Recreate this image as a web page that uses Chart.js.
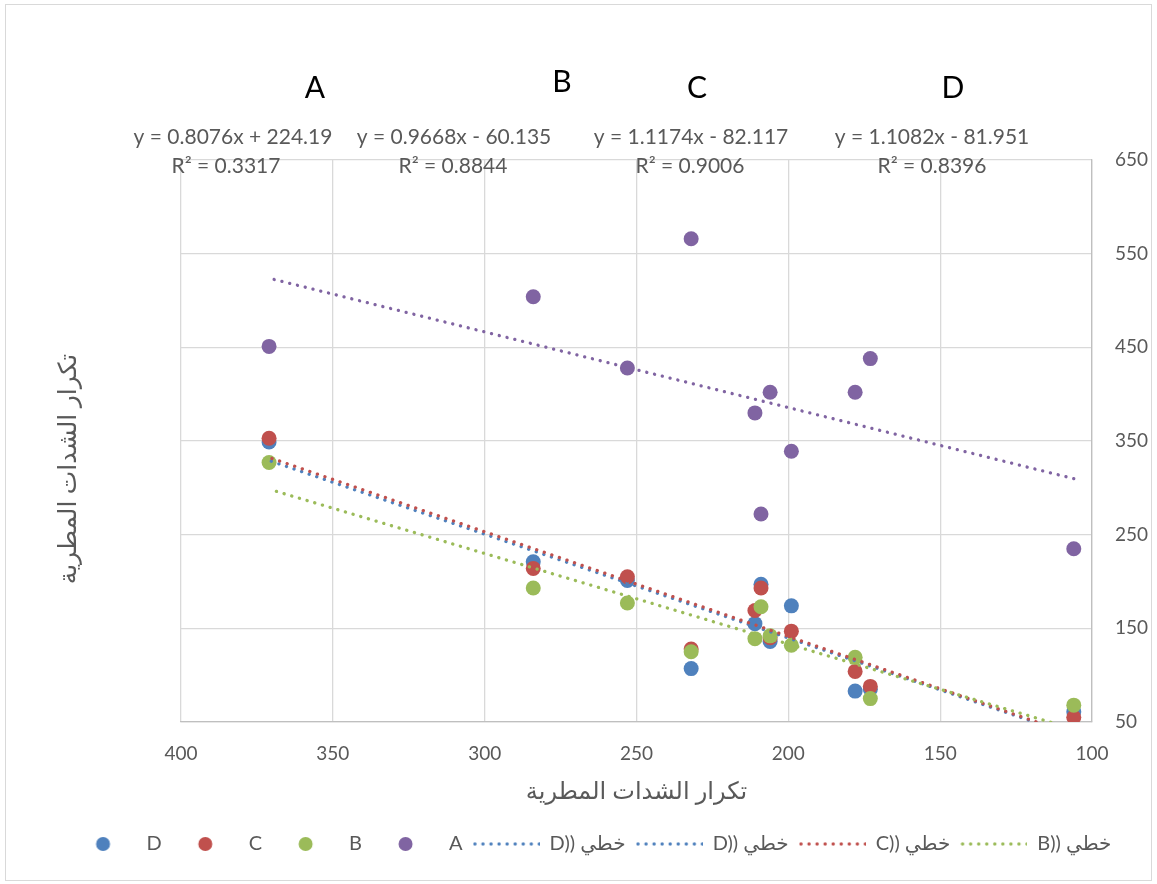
<!DOCTYPE html>
<html dir="ltr"><head><meta charset="utf-8">
<script src="https://cdn.jsdelivr.net/npm/chart.js@4/dist/chart.umd.min.js"></script>
<style>html,body{margin:0;padding:0;background:#fff}</style>
</head><body>
<canvas id="c" width="1157" height="884"></canvas>
<script>
// ---- data ----
const xValues = [371, 284, 253, 232, 211, 209, 206, 199, 178, 173, 106];
const seriesA = [451, 504, 428, 566, 380, 272, 402, 339, 402, 438, 235];
const seriesB = [327, 193, 177, 125, 139, 173, 142, 132, 119, 75, 68];
const seriesC = [353, 214, 205, 128, 169, 193, 140, 147, 104, 88, 55];
const seriesD = [349, 221, 201, 107, 155, 197, 136, 174, 83, 85, 61];
const seriesNames = ['A', 'B', 'C', 'D'];
const trendSlopes = [0.8076, 0.9668, 1.1174, 1.1082];
const trendIntercepts = [224.19, -60.135, -82.117, -81.951];
const trendEquations = ['y = 0.8076x + 224.19', 'y = 0.9668x - 60.135', 'y = 1.1174x - 82.117', 'y = 1.1082x - 81.951'];
const trendR2 = ['R² = 0.3317', 'R² = 0.8844', 'R² = 0.9006', 'R² = 0.8396'];
const xTicks = [400, 350, 300, 250, 200, 150, 100];
const yTicks = [50, 150, 250, 350, 450, 550, 650];
const axisTitle = 'تكرار الشدات المطرية';
const legendLabels = ['D', 'C', 'B', 'A', 'D)) خطي', 'D)) خطي', 'C)) خطي', 'B)) خطي'];
const legendSeries = ['D', 'C', 'B', 'A', 'D', 'D', 'C', 'B'];
const legendIsTrend = [false, false, false, false, true, true, true, true];

// ---- styles ----
const colors = {A: '#8064A2', B: '#9BBB59', C: '#C0504D', D: '#4F81BD'};
const FONT = 'Lato, "DejaVu Sans", sans-serif';
const TXT = '#595959';
const allSeries = [seriesA, seriesB, seriesC, seriesD];

const pts = s => xValues.map((x, i) => ({x: x, y: s[i]}));
const trendPts = k => {
  const lo = Math.min(...xValues), hi = Math.max(...xValues);
  return [lo, hi].map(x => ({x: x, y: trendSlopes[k] * x + trendIntercepts[k]}));
};

const datasets = [];
// trend lines drawn on top
[1, 2, 3, 0].forEach((k, j) => {
  datasets.push({
    label: 'trend ' + seriesNames[k], data: trendPts(k), showLine: true, yAxisID: 'y',
    borderColor: colors[seriesNames[k]], borderWidth: 3.3, borderDash: [0.1, 7.9],
    borderCapStyle: 'round', pointRadius: 0, order: j + 1
  });
});
[0, 1, 2, 3].forEach(k => {
  datasets.push({
    label: seriesNames[k], data: pts(allSeries[k]), yAxisID: 'y',
    backgroundColor: colors[seriesNames[k]], borderWidth: 0, pointRadius: 7.5,
    pointHoverRadius: 7.5, order: 5 + k
  });
});

function symbol(color, trend) {
  const c = document.createElement('canvas');
  c.width = 67; c.height = 16;
  const g = c.getContext('2d');
  g.fillStyle = color;
  if (trend) {
    for (let i = 0; i < 9; i++) { g.beginPath(); g.arc(2.3 + i * 8.05, 8, 1.7, 0, Math.PI * 2); g.fill(); }
  } else {
    g.beginPath(); g.arc(33.5, 8, 7, 0, Math.PI * 2); g.fill();
  }
  return c;
}

const annotations = {
  id: 'annotations',
  beforeDraw(chart) {
    const ctx = chart.ctx;
    ctx.save();
    ctx.fillStyle = '#fff';
    ctx.fillRect(0, 0, chart.width, chart.height);
    ctx.strokeStyle = '#d9d9d9'; ctx.lineWidth = 1;
    ctx.strokeRect(5.5, 4.5, 1146, 876);
    ctx.restore();
  },
  afterDraw(chart) {
    const ctx = chart.ctx;
    ctx.save();
    ctx.textAlign = 'center'; ctx.textBaseline = 'middle';
    const letterX = [315, 562, 697, 953], letterY = [88, 82, 88, 88];
    ctx.fillStyle = '#000'; ctx.font = '30px ' + FONT;
    seriesNames.forEach((n, i) => ctx.fillText(n, letterX[i], letterY[i]));
    const eqX = [233, 454, 691, 932], r2X = [226, 453, 690, 932];
    ctx.fillStyle = TXT; ctx.font = '21px ' + FONT;
    trendEquations.forEach((t, i) => ctx.fillText(t, eqX[i], 137));
    trendR2.forEach((t, i) => ctx.fillText(t, r2X[i], 166));
    // y axis title
    ctx.translate(68, 469); ctx.rotate(-Math.PI / 2);
    ctx.font = '25px ' + FONT;
    ctx.fillText(axisTitle, 0, 0);
    ctx.restore();
  }
};

new Chart(document.getElementById('c'), {
  type: 'scatter',
  data: {datasets},
  plugins: [annotations],
  options: {
    responsive: false, animation: false,
    layout: {padding: {top: 160, left: 24, right: 0, bottom: 20}},
    plugins: {
      tooltip: {enabled: false},
      legend: {
        position: 'bottom',
        labels: {
          usePointStyle: true, pointStyleWidth: 67, boxHeight: 18, padding: 10,
          color: TXT, font: {size: 20, family: FONT},
          generateLabels: () => legendLabels.map((t, i) => ({
            text: t, fillStyle: colors[legendSeries[i]], strokeStyle: colors[legendSeries[i]],
            lineWidth: 0, hidden: false, fontColor: TXT,
            pointStyle: symbol(colors[legendSeries[i]], legendIsTrend[i]), datasetIndex: 0
          }))
        }
      }
    },
    scales: {
      x: {
        type: 'linear', position: 'bottom', reverse: true, min: 100, max: 400,
        afterBuildTicks: s => { s.ticks = xTicks.map(v => ({value: v})); },
        ticks: {color: TXT, font: {size: 19, family: FONT}, padding: 20, maxRotation: 0},
        grid: {color: '#d9d9d9', lineWidth: 1.3, drawTicks: false},
        border: {color: '#bfbfbf', width: 1.3},
        title: {display: true, text: axisTitle, color: TXT, font: {size: 24, family: FONT}, padding: {top: 0, bottom: 18}},
        afterFit: s => { s.height = 102; }
      },
      y: {
        type: 'linear', position: 'right', min: 50, max: 650,
        afterBuildTicks: s => { s.ticks = yTicks.map(v => ({value: v})); },
        ticks: {color: TXT, font: {size: 19, family: FONT}, padding: 23},
        grid: {color: '#d9d9d9', lineWidth: 1.3, drawTicks: false},
        border: {color: '#bfbfbf', width: 1.3},
        afterFit: s => { s.width = 65; }
      },
      yLeft: {
        type: 'linear', position: 'left', display: true,
        ticks: {display: false}, grid: {display: false}, border: {display: false},
        afterFit: s => { s.width = 157; }
      }
    }
  }
});
</script>
</body></html>
